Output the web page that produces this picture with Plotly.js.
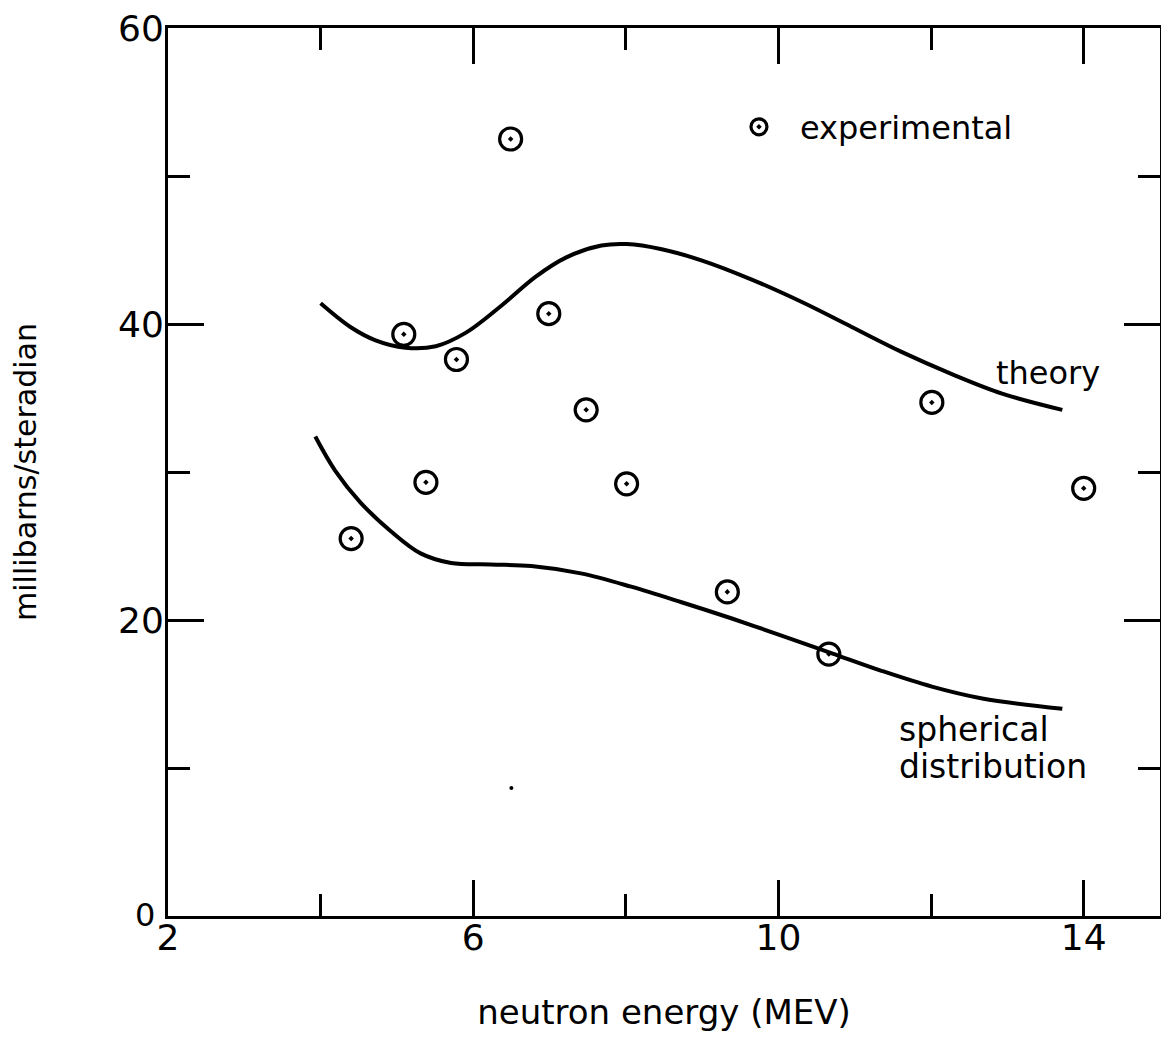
<!DOCTYPE html>
<html>
<head>
<meta charset="utf-8">
<script src="https://cdn.plot.ly/plotly-3.0.1.min.js"></script>
<style>
  html, body { margin: 0; padding: 0; background: #fff; }
  #chart { width: 1161px; height: 1038px; }
</style>
</head>
<body>
<div id="chart"></div>
<script>
// Experimental points (neutron energy in MeV, millibarns/steradian)
const expEnergy = [4.40, 5.09, 5.38, 5.78, 6.49, 6.99, 7.48, 8.01, 9.33, 10.66, 12.01, 14.00];
const expValue  = [25.5, 39.3, 29.3, 37.6, 52.5, 40.7, 34.2, 29.2, 21.9, 17.7, 34.7, 28.9];

// Theory curve
const theoryEnergy = [4.00, 4.39, 4.72, 5.11, 5.51, 5.90, 6.36, 6.82, 7.22, 7.68, 8.01, 8.47, 8.99, 9.65, 10.30, 10.96, 11.62, 12.28, 12.93, 13.72];
const theoryValue  = [41.4, 39.8, 38.9, 38.4, 38.5, 39.4, 41.2, 43.2, 44.5, 45.3, 45.4, 45.05, 44.3, 43.0, 41.5, 39.8, 38.1, 36.6, 35.3, 34.2];

// Spherical distribution curve
const sphEnergy = [3.93, 4.19, 4.52, 4.92, 5.31, 5.71, 6.23, 6.76, 7.41, 8.07, 8.73, 9.39, 10.04, 10.70, 11.36, 12.01, 12.67, 13.72];
const sphValue  = [32.4, 30.1, 27.95, 26.0, 24.5, 23.85, 23.75, 23.65, 23.15, 22.25, 21.2, 20.1, 18.95, 17.75, 16.55, 15.5, 14.7, 14.0];

// stray speck in the original scan
const speckEnergy = [6.50];
const speckValue  = [8.65];

const xTickVals = [2, 6, 10, 14];
const xTickText = ['2', '6', '10', '14'];
const xMinorVals = [4, 8, 12];
const yTickVals = [0, 20, 40, 60];
const yTickText = ['', '20', '40', '60'];   // the origin "0" is drawn separately, slightly smaller
const yOriginLabel = '0';
const yMinorVals = [10, 30, 50];

const FONT = 'DejaVu Sans, sans-serif';

const traces = [
  {
    x: theoryEnergy, y: theoryValue, mode: 'lines', type: 'scatter',
    line: { color: '#000', width: 4, shape: 'spline', smoothing: 1 },
    showlegend: false, hoverinfo: 'skip'
  },
  {
    x: sphEnergy, y: sphValue, mode: 'lines', type: 'scatter',
    line: { color: '#000', width: 4, shape: 'spline', smoothing: 1 },
    showlegend: false, hoverinfo: 'skip'
  },
  {
    x: expEnergy, y: expValue, mode: 'markers', type: 'scatter', name: 'experimental',
    marker: { symbol: 'circle-open-dot', size: 22, color: '#000', line: { color: '#000', width: 3.2 } },
    showlegend: true
  },
  {
    x: speckEnergy, y: speckValue, mode: 'markers', type: 'scatter',
    marker: { symbol: 'circle', size: 4, color: '#000' },
    showlegend: false, hoverinfo: 'skip'
  }
];

const layout = {
  width: 1161, height: 1038,
  margin: { l: 168, r: 1, t: 28, b: 122 },
  paper_bgcolor: '#fff', plot_bgcolor: '#fff',
  font: { family: FONT, color: '#000' },
  xaxis: {
    range: [2, 15], showgrid: false, zeroline: false,
    showline: true, linewidth: 3, linecolor: '#000', mirror: 'ticks',
    ticks: 'inside', ticklen: 36, tickwidth: 3, tickcolor: '#000',
    tickvals: xTickVals, ticktext: xTickText,
    tickfont: { family: FONT, size: 36, color: '#000' },
    ticklabelstandoff: -12,
    minor: { tickvals: xMinorVals, ticks: 'inside', ticklen: 22, tickwidth: 3, tickcolor: '#000', showgrid: false },
    title: { text: 'neutron energy (MEV)', font: { family: FONT, size: 34, color: '#000' }, standoff: 43 }
  },
  yaxis: {
    range: [0, 60], showgrid: false, zeroline: false,
    showline: true, linewidth: 3, linecolor: '#000', mirror: 'ticks',
    ticks: 'inside', ticklen: 36, tickwidth: 3, tickcolor: '#000',
    tickvals: yTickVals, ticktext: yTickText,
    tickfont: { family: FONT, size: 36, color: '#000' },
    ticklabelstandoff: -6,
    minor: { tickvals: yMinorVals, ticks: 'inside', ticklen: 22, tickwidth: 3, tickcolor: '#000', showgrid: false },
    title: { text: 'millibarns/steradian', font: { family: FONT, size: 30, color: '#000' }, standoff: 73 }
  },
  showlegend: true,
  legend: {
    x: 0.5544, y: 0.8885, xanchor: 'left', yanchor: 'middle',
    bgcolor: 'rgba(0,0,0,0)', borderwidth: 0,
    font: { family: FONT, size: 32, color: '#000' },
    itemsizing: 'trace', itemwidth: 72
  },
  annotations: [
    { x: xTickVals[0], y: yTickVals[0], xref: 'x', yref: 'y', text: yOriginLabel, showarrow: false,
      xanchor: 'right', yanchor: 'middle', xshift: -12, yshift: 1, borderpad: 0,
      font: { family: FONT, size: 32, color: '#000' } },
    { x: 12.82, y: 36.7, xref: 'x', yref: 'y', text: 'theory', showarrow: false,
      xanchor: 'left', yanchor: 'middle', font: { family: FONT, size: 32, color: '#000' } },
    { x: 11.55, y: 12.6, xref: 'x', yref: 'y', text: 'spherical', showarrow: false,
      xanchor: 'left', yanchor: 'middle', font: { family: FONT, size: 33, color: '#000' } },
    { x: 11.55, y: 10.1, xref: 'x', yref: 'y', text: 'distribution', showarrow: false,
      xanchor: 'left', yanchor: 'middle', font: { family: FONT, size: 33, color: '#000' } }
  ]
};

Plotly.newPlot('chart', traces, layout, { staticPlot: true, displayModeBar: false });
</script>
</body>
</html>
